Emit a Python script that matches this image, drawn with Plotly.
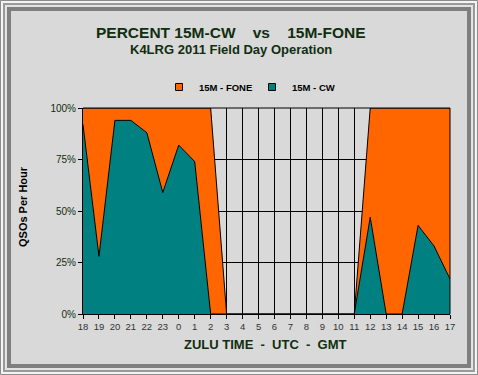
import plotly.graph_objects as go

hours = ["18", "19", "20", "21", "22", "23", "0", "1", "2", "3", "4", "5",
         "6", "7", "8", "9", "10", "11", "12", "13", "14", "15", "16", "17"]
cw_pct = [92, 28, 94, 94, 88, 59, 82, 74, 0, 0, 0, 0,
          0, 0, 0, 0, 0, 0, 47, 0, 0, 43, 33, 17]
fone_pct = [8, 72, 6, 6, 12, 41, 18, 26, 100, 0, 0, 0,
            0, 0, 0, 0, 0, 0, 53, 100, 100, 57, 67, 83]
y_ticks = [0, 25, 50, 75, 100]
y_ticktext = ["0%", "25%", "50%", "75%", "100%"]

W, H = 478, 375
L, R, T, B = 83, 450, 108, 314

def px(x):
    return (x - L) / (R - L)

def py(y):
    return (B - y) / (B - T)

idx = list(range(len(hours)))
TEAL = "#008080"
ORANGE = "#FF6600"
DARK = "#102e10"
FONT = "Liberation Sans, Arial"

fig = go.Figure()
fig.add_trace(go.Scatter(x=idx, y=cw_pct, stackgroup="s", mode="lines",
                         line=dict(color="black", width=1), fillcolor=TEAL,
                         showlegend=False, name="15M - CW"))
fig.add_trace(go.Scatter(x=idx, y=fone_pct, stackgroup="s", mode="lines",
                         line=dict(color="black", width=1), fillcolor=ORANGE,
                         showlegend=False, name="15M - FONE"))
# legend proxies
fig.add_trace(go.Scatter(x=[None], y=[None], mode="markers", name="<b>15M - FONE</b>",
                         marker=dict(symbol="square", size=7, color=ORANGE,
                                     line=dict(color="black", width=1))))
fig.add_trace(go.Scatter(x=[None], y=[None], mode="markers", name="<b>15M - CW</b>",
                         marker=dict(symbol="square", size=7, color=TEAL,
                                     line=dict(color="black", width=1))))

shapes = []
frames = [(0.5, "#8c8c8c", 1), (2, "#f4f4f4", 2), (4, "#9a9a9a", 2),
          (6, "#e6e6e6", 1.5), (9, "#7f7f7f", 4)]
for inset, col, w in frames:
    shapes.append(dict(type="rect", xref="paper", yref="paper",
                       x0=px(inset), x1=px(W - inset), y0=py(H - inset), y1=py(inset),
                       line=dict(color=col, width=w), fillcolor="rgba(0,0,0,0)",
                       layer="below"))
# top & right border
shapes.append(dict(type="line", xref="paper", yref="paper", x0=0, x1=1, y0=1, y1=1,
                   line=dict(color="black", width=1)))
shapes.append(dict(type="line", xref="paper", yref="paper", x0=1, x1=1, y0=0, y1=1,
                   line=dict(color="black", width=1)))

def ann(text, x, y, size, color=DARK, angle=0):
    return dict(text=text, xref="paper", yref="paper", x=px(x), y=py(y),
                xanchor="center", yanchor="middle", showarrow=False, textangle=angle,
                font=dict(family=FONT, size=size, color=color))

annotations = [
    ann("<b>PERCENT 15M-CW\u00a0\u00a0\u00a0\u00a0vs\u00a0\u00a0\u00a0\u00a015M-FONE</b>", 231, 33, 15.5),
    ann("<b>K4LRG 2011 Field Day Operation</b>", 231, 50, 13),
    ann("<b>ZULU TIME\u00a0\u00a0-\u00a0\u00a0UTC\u00a0\u00a0-\u00a0\u00a0GMT</b>", 265, 344, 13),
    ann("<b>QSOs Per Hour</b>", 23, 207, 11, color="black", angle=-90),
]

fig.update_layout(
    width=W, height=H,
    margin=dict(l=L, r=W - R, t=T, b=H - B, pad=0, autoexpand=False),
    paper_bgcolor="#d9d9d9", plot_bgcolor="#d9d9d9",
    font=dict(family=FONT, color=DARK),
    shapes=shapes, annotations=annotations,
    legend=dict(orientation="h", x=px(159), xanchor="left", y=py(87), yanchor="middle",
                font=dict(size=9.5, color="black", family=FONT),
                bgcolor="rgba(0,0,0,0)", itemwidth=30, itemclick=False,
                traceorder="normal", entrywidth=48, entrywidthmode="pixels"),
    xaxis=dict(range=[0, len(hours) - 1], tickvals=idx, ticktext=hours,
               showgrid=True, gridcolor="black", gridwidth=1,
               showline=True, linecolor="black", linewidth=1,
               ticks="outside", ticklen=4, tickcolor="black",
               tickfont=dict(size=9.5, color="#333333"), zeroline=False,
               fixedrange=True),
    yaxis=dict(range=[0, 100], tickvals=y_ticks, ticktext=y_ticktext,
               showgrid=True, gridcolor="black", gridwidth=1,
               showline=True, linecolor="black", linewidth=1,
               ticks="outside", ticklen=4, tickcolor="black",
               tickfont=dict(size=10, color=DARK, family=FONT),
               zeroline=False, fixedrange=True),
)
fig.update_yaxes(tickprefix="<b>", ticksuffix="</b>")

fig.write_html("out.html", config={"displayModeBar": False},
               post_script="document.body.style.margin='0';")
